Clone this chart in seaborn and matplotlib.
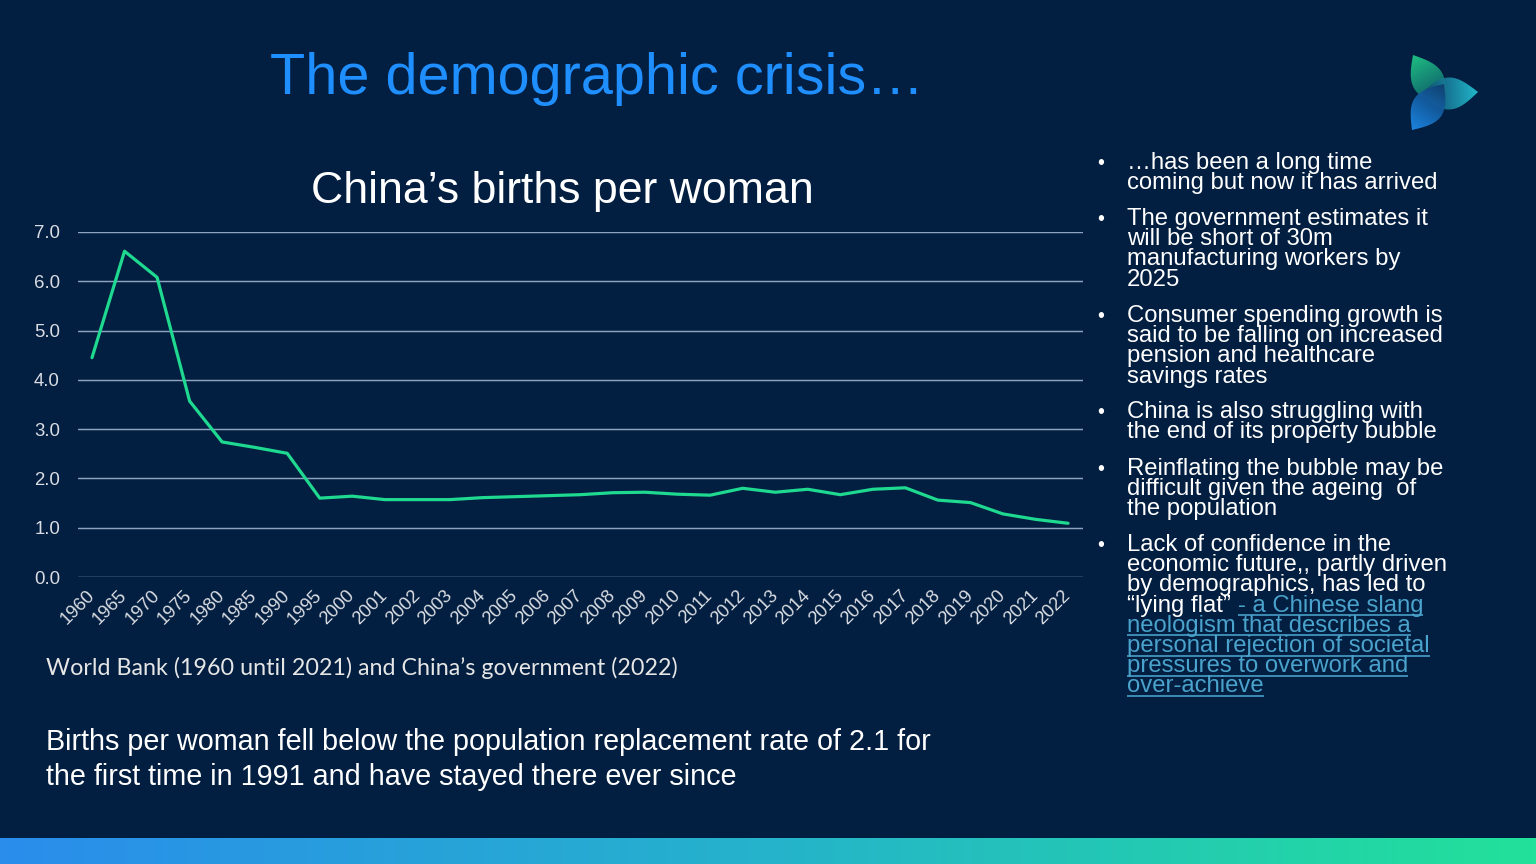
import numpy as np
import pandas as pd
import matplotlib
matplotlib.use("Agg")
import matplotlib.pyplot as plt
import seaborn as sns
from matplotlib.colors import LinearSegmentedColormap, to_rgb
from matplotlib.patches import Polygon

# Data
years = ["1960", "1965", "1970", "1975", "1980", "1985", "1990", "1995",
         "2000", "2001", "2002", "2003", "2004", "2005", "2006", "2007",
         "2008", "2009", "2010", "2011", "2012", "2013", "2014", "2015",
         "2016", "2017", "2018", "2019", "2020", "2021", "2022"]
births = [4.45, 6.61, 6.08, 3.57, 2.74, 2.63, 2.51, 1.60,
          1.64, 1.57, 1.57, 1.57, 1.61, 1.63, 1.65, 1.67,
          1.71, 1.72, 1.68, 1.66, 1.80, 1.72, 1.78, 1.67,
          1.78, 1.81, 1.56, 1.51, 1.28, 1.17, 1.09]
y_ticks = [0, 1, 2, 3, 4, 5, 6, 7]

bullets = [
    ["\u2026has been a long time", "coming but now it has arrived"],
    ["The government estimates it", "will be short of 30m",
     "manufacturing workers by", "2025"],
    ["Consumer spending growth is", "said to be falling on increased",
     "pension and healthcare", "savings rates"],
    ["China is also struggling with", "the end of its property bubble"],
    ["Reinflating the bubble may be", "difficult given the ageing  of",
     "the population"],
    ["Lack of confidence in the", "economic future,, partly driven",
     "by demographics, has led to", "\u201clying flat\u201d "],
]
link_lines = ["- a Chinese slang", "neologism that describes a",
              "personal rejection of societal", "pressures to overwork and",
              "over-achieve"]
bullet_first_baseline = [169, 225, 322, 418, 475, 551]

BG = "#021E40"
LINE = "#1ED98F"
GRID = "#8FA3C0"
LINK = "#4AA3CC"

sns.set_theme(style="dark", rc={
    "figure.facecolor": BG,
    "axes.facecolor": "none",
    "savefig.facecolor": BG,
})
plt.rcParams["font.family"] = ["Liberation Sans", "DejaVu Sans"]

fig = plt.figure(figsize=(16, 9), dpi=96)

# full-figure overlay in pixel coordinates
bg = fig.add_axes([0, 0, 1, 1], zorder=0)
bg.set_facecolor(BG)

# bottom gradient bar
bar_cmap = LinearSegmentedColormap.from_list("bar", ["#2A8DEC", "#25B3CB", "#22E19A"])
bg.imshow(np.linspace(0, 1, 256)[None, :], cmap=bar_cmap, aspect="auto",
          extent=[0, 1536, 864, 838])


# logo: three leaves with gradients
def leaf(p0, p1, half_w, c0, c1):
    p0 = np.array(p0, float)
    p1 = np.array(p1, float)
    d = p1 - p0
    n = np.array([-d[1], d[0]]) / np.hypot(*d)
    t = np.linspace(0, 1, 60)
    off = half_w * np.sin(np.pi * t)
    side1 = p0 + np.outer(t, d) + np.outer(off, n)
    side2 = p0 + np.outer(t[::-1], d) - np.outer(off[::-1], n)
    poly = Polygon(np.vstack([side1, side2]), closed=True, facecolor="none",
                   edgecolor="none", transform=bg.transData)
    bg.add_patch(poly)
    xs = np.linspace(1395, 1495, 120)
    ys = np.linspace(40, 145, 120)
    gx, gy = np.meshgrid(xs, ys)
    proj = ((gx - p0[0]) * d[0] + (gy - p0[1]) * d[1]) / (d @ d)
    proj = np.clip(proj, 0, 1)[..., None]
    img = (1 - proj) * np.array(to_rgb(c0)) + proj * np.array(to_rgb(c1))
    im = bg.imshow(img, extent=[1395, 1495, 145, 40], aspect="auto",
                   origin="upper", alpha=0.9)
    im.set_clip_path(poly)


leaf((1413, 55), (1443, 106), 16, "#22D08A", "#0E4E6A")
leaf((1420, 95), (1478, 92), 16, "#0E3E66", "#26C9DA")
leaf((1444, 84), (1412, 130), 16, "#0E3A6A", "#1E90F2")

bg.set_xlim(0, 1536)
bg.set_ylim(864, 0)
bg.axis("off")

# titles
bg.text(270, 94, "The demographic crisis\u2026", fontsize=43.2, color="#1F8FFF",
        ha="left", va="baseline")
bg.text(562, 203, "China\u2019s births per woman", fontsize=33.5, color="white",
        ha="center", va="baseline")

# source and footnote
bg.text(46, 675, "World Bank (1960 until 2021) and China\u2019s government (2022)",
        fontsize=17.4, color="#E6E6E6", family=["Lato", "DejaVu Sans"],
        ha="left", va="baseline")
bg.text(46, 750, "Births per woman fell below the population replacement rate of 2.1 for",
        fontsize=21.6, color="white", ha="left", va="baseline")
bg.text(46, 785, "the first time in 1991 and have stayed there ever since",
        fontsize=21.6, color="white", ha="left", va="baseline")

# bullets
fig.canvas.draw()
renderer = fig.canvas.get_renderer()
pitch = 20.2
last_txt = None
last_y = 0
for first, lines in zip(bullet_first_baseline, bullets):
    bg.text(1101, first, "\u2022", fontsize=15, color="white",
            ha="center", va="baseline")
    for i, line in enumerate(lines):
        last_y = first + i * pitch
        last_txt = bg.text(1127, last_y, line, fontsize=17.9, color="white",
                           ha="left", va="baseline")

# hyperlink part continues after the last white line
inv = bg.transData.inverted()
ext = last_txt.get_window_extent(renderer=renderer)
x_link = inv.transform((ext.x1, ext.y0))[0]
for i, line in enumerate(link_lines):
    y = last_y + i * pitch
    x0 = x_link if i == 0 else 1127
    t = bg.text(x0, y, line, fontsize=17.9, color=LINK, ha="left", va="baseline")
    e = t.get_window_extent(renderer=renderer)
    x1 = inv.transform((e.x1, e.y0))[0]
    bg.plot([x0, x1], [y + 3.5, y + 3.5], color=LINK, lw=1.2,
            solid_capstyle="butt")

# main chart
ax = fig.add_axes([78 / 1536, (864 - 577) / 864, (1083 - 78) / 1536, 345 / 864],
                  zorder=2)
df = pd.DataFrame({"year": years, "births": births})
sns.lineplot(data=df, x="year", y="births", ax=ax, color=LINE,
             linewidth=2.4, sort=False)

ax.set_xlim(-0.43, len(years) - 1 + 0.46)
ax.set_ylim(0, 7)
ax.set_yticks(y_ticks)
ax.set_yticklabels([f"{v:.1f}" for v in y_ticks])
ax.set_xticks(range(len(years)))
ax.set_xticklabels(years, rotation=45, ha="right", rotation_mode="anchor")
ax.tick_params(axis="both", length=0, colors="#DADDE3")
ax.tick_params(axis="y", pad=13.5, labelsize=14)
ax.tick_params(axis="x", pad=12, labelsize=13.8)
for lab in ax.get_xticklabels():
    lab.set_va("center")
ax.set_xlabel("")
ax.set_ylabel("")
ax.yaxis.grid(True, color=GRID, linewidth=1.1)
ax.xaxis.grid(False)
for s in ax.spines.values():
    s.set_visible(False)

fig.savefig("out.png", dpi=96, facecolor=BG)
